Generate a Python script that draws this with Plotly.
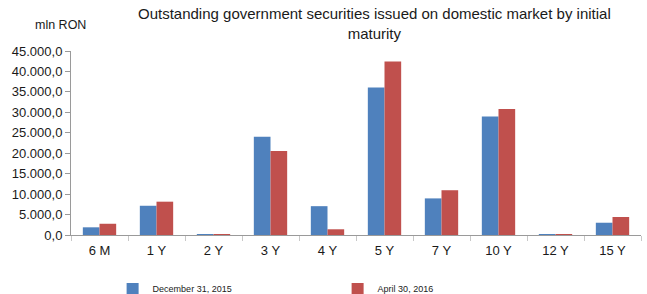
import plotly.graph_objects as go

categories = ["6 M", "1 Y", "2 Y", "3 Y", "4 Y", "5 Y", "7 Y", "10 Y", "12 Y", "15 Y"]
dec_2015 = [1880, 7150, 180, 24000, 7050, 36100, 8950, 29000, 120, 3000]
apr_2016 = [2750, 8150, 150, 20550, 1400, 42450, 10950, 30800, 100, 4400]

fig = go.Figure()
fig.add_trace(go.Bar(x=categories, y=dec_2015, name="December 31, 2015",
                     marker=dict(color="#4F81BD", line=dict(width=0))))
fig.add_trace(go.Bar(x=categories, y=apr_2016, name="April 30, 2016",
                     marker=dict(color="#C0504D", line=dict(width=0))))

fig.update_layout(
    width=647, height=294,
    margin=dict(l=71, r=6, t=51, b=59, autoexpand=False),
    paper_bgcolor="white", plot_bgcolor="white",
    font=dict(family="Liberation Sans, Arial", color="#1a1a1a", size=12),
    separators=",.",
    barmode="group", bargap=0.415, bargroupgap=0,
    showlegend=True,
    legend=dict(orientation="h", x=0.073, xanchor="left", y=-0.293, yanchor="middle",
                font=dict(size=9), entrywidth=180, entrywidthmode="pixels",
                itemwidth=30, tracegroupgap=0, bgcolor="rgba(0,0,0,0)"),
    annotations=[
        dict(text="Outstanding government securities issued on domestic market by initial<br>maturity",
             xref="paper", yref="paper", x=0.533, y=1.262, xanchor="center", yanchor="top",
             showarrow=False, font=dict(size=15, color="#1a1a1a")),
        dict(text="mln RON", xref="paper", yref="paper", x=-0.066, y=1.142,
             xanchor="left", yanchor="middle", showarrow=False, font=dict(size=12.5)),
    ],
)

fig.update_yaxes(range=[0, 45000], tickvals=list(range(0, 45001, 5000)),
                 tickformat=",.1f", showgrid=False, showline=True,
                 linecolor="#9a9a9a", linewidth=1, ticks="outside",
                 tickcolor="#9a9a9a", ticklen=5, zeroline=False,
                 tickfont=dict(size=13))
fig.update_xaxes(showline=True, linecolor="#9a9a9a", linewidth=1,
                 ticks="outside", tickson="boundaries", tickcolor="#c8c8c8",
                 ticklen=5, showgrid=False, tickfont=dict(size=13),
                 ticklabelstandoff=3)

fig.write_html("out.html", config={"displayModeBar": False},
               post_script="document.body.style.margin='0';")
